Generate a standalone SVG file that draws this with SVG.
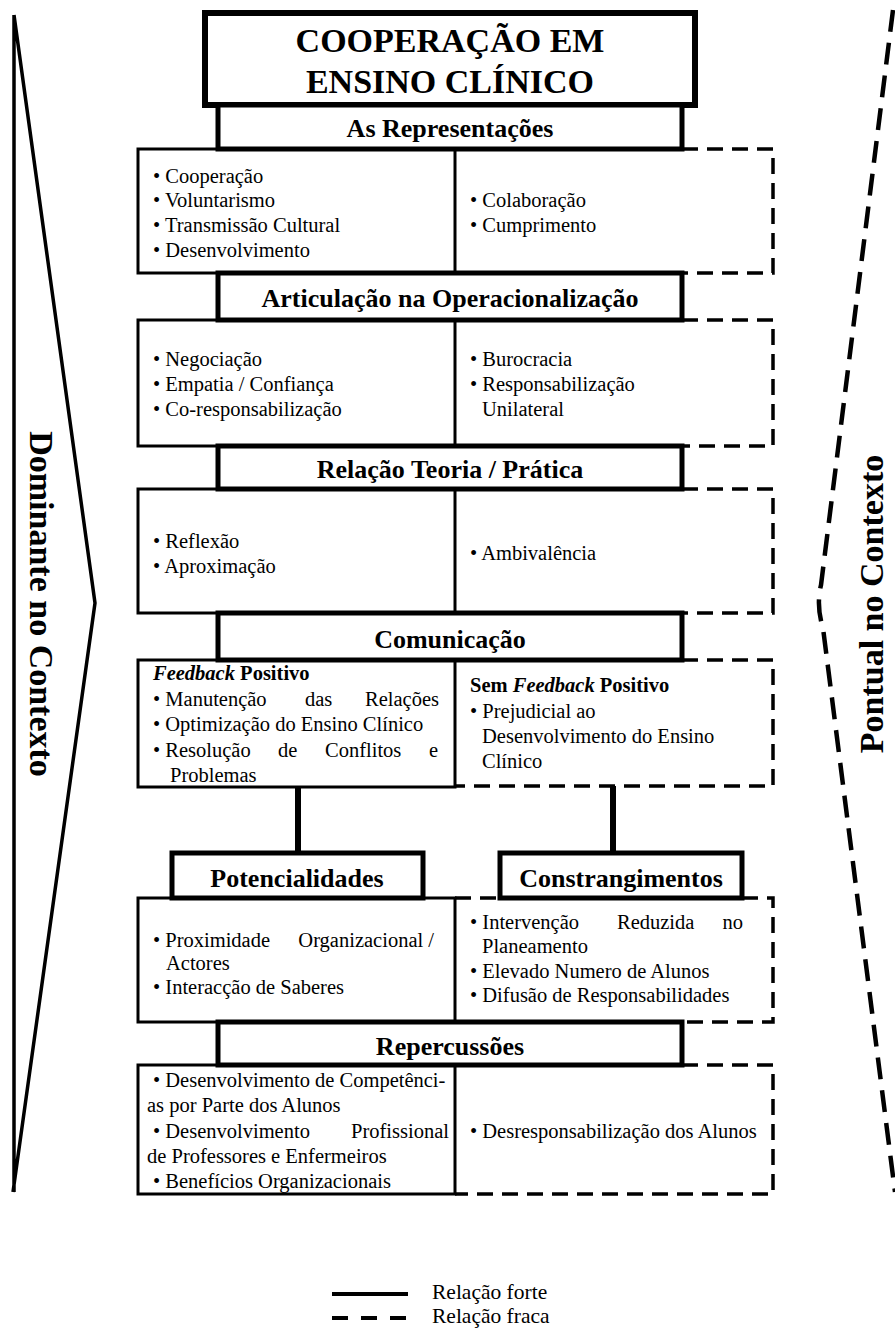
<svg xmlns="http://www.w3.org/2000/svg" width="895" height="1330" viewBox="0 0 895 1330">
  <style>
    text { font-family: "Liberation Serif", "Times New Roman", serif; fill: #000; }
    .t { font-size: 20.5px; }
    .e { text-anchor: end; }
    .h { font-size: 26px; font-weight: bold; text-anchor: middle; }
    .ttl { font-size: 34px; font-weight: bold; text-anchor: middle; }
    .side { font-size: 34px; font-weight: bold; text-anchor: middle; }
    .lg { font-size: 21.5px; }
    .b { font-weight: bold; }
    .bi { font-weight: bold; font-style: italic; }
    .box { fill: #fff; stroke: #000; stroke-width: 3; }
    .hdr { fill: #fff; stroke: #000; stroke-width: 5; }
    .weak { fill: none; stroke: #000; stroke-width: 3.5; stroke-dasharray: 16 9; }
    .strong { fill: none; stroke: #000; stroke-width: 6; }
  </style>

  <!-- side indicators -->
  <g id="dominante">
    <path d="M14 15 V1192 M14 15 L95 603 L13 1192" fill="none" stroke="#000" stroke-width="3.5"/>
    <text class="side" transform="translate(30 604) rotate(90)">Dominante no Contexto</text>
  </g>
  <g id="pontual">
    <path d="M893 10 L821 585 Q816 606 823 628 L895 1192" fill="none" stroke="#000" stroke-width="4.5" stroke-dasharray="22 11"/>
    <text class="side" transform="translate(883 604) rotate(-90)">Pontual no Contexto</text>
  </g>

  <!-- connectors -->
  <g id="connectors">
    <line class="strong" x1="298" y1="787" x2="298" y2="853"/>
    <line class="strong" x1="613" y1="786" x2="613" y2="853"/>
  </g>

  <!-- content panels: left solid, right dashed -->
  <g id="representacoes-itens">
    <rect class="box" x="138" y="149" width="317" height="124"/>
    <path class="weak" d="M682 149 H773 V273 H682"/>
    <text class="t" x="153" y="183">• Cooperação</text>
    <text class="t" x="153" y="207">• Voluntarismo</text>
    <text class="t" x="153" y="232">• Transmissão Cultural</text>
    <text class="t" x="153" y="257">• Desenvolvimento</text>
    <text class="t" x="470" y="207">• Colaboração</text>
    <text class="t" x="470" y="232">• Cumprimento</text>
  </g>

  <g id="articulacao-itens">
    <rect class="box" x="138" y="320" width="317" height="126"/>
    <path class="weak" d="M682 320 H773 V446 H682"/>
    <text class="t" x="153" y="366">• Negociação</text>
    <text class="t" x="153" y="391">• Empatia / Confiança</text>
    <text class="t" x="153" y="416">• Co-responsabilização</text>
    <text class="t" x="470" y="366">• Burocracia</text>
    <text class="t" x="470" y="391">• Responsabilização</text>
    <text class="t" x="482" y="416">Unilateral</text>
  </g>

  <g id="teoria-pratica-itens">
    <rect class="box" x="138" y="489" width="317" height="124"/>
    <path class="weak" d="M682 489 H773 V613 H682"/>
    <text class="t" x="153" y="548">• Reflexão</text>
    <text class="t" x="153" y="573">• Aproximação</text>
    <text class="t" x="470" y="560">• Ambivalência</text>
  </g>

  <g id="comunicacao-itens">
    <rect class="box" x="138" y="660" width="317" height="127"/>
    <path class="weak" d="M682 660 H773 V786 H455"/>
    <text class="t" x="153" y="680"><tspan class="bi">Feedback</tspan><tspan class="b"> Positivo</tspan></text>
    <text class="t" x="153" y="706">• Manutenção</text>
    <text class="t" x="305" y="706">das</text>
    <text class="t e" x="439" y="706">Relações</text>
    <text class="t" x="153" y="731">• Optimização do Ensino Clínico</text>
    <text class="t" x="153" y="757">• Resolução</text>
    <text class="t" x="278" y="757">de</text>
    <text class="t" x="325" y="757">Conflitos</text>
    <text class="t e" x="438" y="757">e</text>
    <text class="t" x="170" y="782">Problemas</text>
    <text class="t" x="470" y="692"><tspan class="b">Sem </tspan><tspan class="bi">Feedback</tspan><tspan class="b"> Positivo</tspan></text>
    <text class="t" x="470" y="718">• Prejudicial ao</text>
    <text class="t" x="482" y="743">Desenvolvimento do Ensino</text>
    <text class="t" x="482" y="768">Clínico</text>
  </g>

  <g id="potencialidades-itens">
    <rect class="box" x="138" y="898" width="317" height="124"/>
    <path class="weak" d="M455 898 H500 M742 898 H773 V1022 H682"/>
    <text class="t" x="153" y="947">• Proximidade</text>
    <text class="t e" x="434" y="947">Organizacional /</text>
    <text class="t" x="166" y="970">Actores</text>
    <text class="t" x="153" y="994">• Interacção de Saberes</text>
  </g>

  <g id="constrangimentos-itens">
    <text class="t" x="470" y="929">• Intervenção</text>
    <text class="t" x="617" y="929">Reduzida</text>
    <text class="t e" x="743" y="929">no</text>
    <text class="t" x="482" y="953">Planeamento</text>
    <text class="t" x="470" y="978">• Elevado Numero de Alunos</text>
    <text class="t" x="470" y="1002">• Difusão de Responsabilidades</text>
  </g>

  <g id="repercussoes-itens">
    <rect class="box" x="138" y="1065" width="317" height="129"/>
    <path class="weak" d="M682 1065 H773 V1194 H455"/>
    <text class="t" x="153" y="1087">• Desenvolvimento de Competênci-</text>
    <text class="t" x="147" y="1112">as por Parte dos Alunos</text>
    <text class="t" x="153" y="1138">• Desenvolvimento</text>
    <text class="t e" x="449" y="1138">Profissional</text>
    <text class="t" x="147" y="1163">de Professores e Enfermeiros</text>
    <text class="t" x="153" y="1188">• Benefícios Organizacionais</text>
    <text class="t" x="470" y="1138">• Desresponsabilização dos Alunos</text>
  </g>

  <!-- headers -->
  <g id="titulo">
    <rect x="205" y="13" width="490" height="92" fill="#fff" stroke="#000" stroke-width="6"/>
    <text class="ttl" x="450" y="52">COOPERAÇÃO EM</text>
    <text class="ttl" x="450" y="93">ENSINO CLÍNICO</text>
  </g>
  <g id="representacoes">
    <rect class="hdr" x="218" y="105" width="464" height="44"/>
    <text class="h" x="450" y="137">As Representações</text>
  </g>
  <g id="articulacao">
    <rect class="hdr" x="218" y="273" width="464" height="47"/>
    <text class="h" x="450" y="307">Articulação na Operacionalização</text>
  </g>
  <g id="teoria-pratica">
    <rect class="hdr" x="218" y="446" width="464" height="43"/>
    <text class="h" x="450" y="478">Relação Teoria / Prática</text>
  </g>
  <g id="comunicacao">
    <rect class="hdr" x="218" y="613" width="464" height="47"/>
    <text class="h" x="450" y="648">Comunicação</text>
  </g>
  <g id="potencialidades">
    <rect class="hdr" x="172" y="853" width="251" height="45"/>
    <text class="h" x="297" y="887">Potencialidades</text>
  </g>
  <g id="constrangimentos">
    <rect class="hdr" x="500" y="853" width="242" height="45"/>
    <text class="h" x="621" y="887">Constrangimentos</text>
  </g>
  <g id="repercussoes">
    <rect class="hdr" x="218" y="1022" width="464" height="43"/>
    <text class="h" x="450" y="1055">Repercussões</text>
  </g>

  <!-- legend -->
  <g id="legenda">
    <line x1="332" y1="1294" x2="408" y2="1294" stroke="#000" stroke-width="4"/>
    <line x1="332" y1="1318" x2="408" y2="1318" stroke="#000" stroke-width="4" stroke-dasharray="16 13"/>
    <text class="lg" x="432" y="1299">Relação forte</text>
    <text class="lg" x="432" y="1323">Relação fraca</text>
  </g>
</svg>
